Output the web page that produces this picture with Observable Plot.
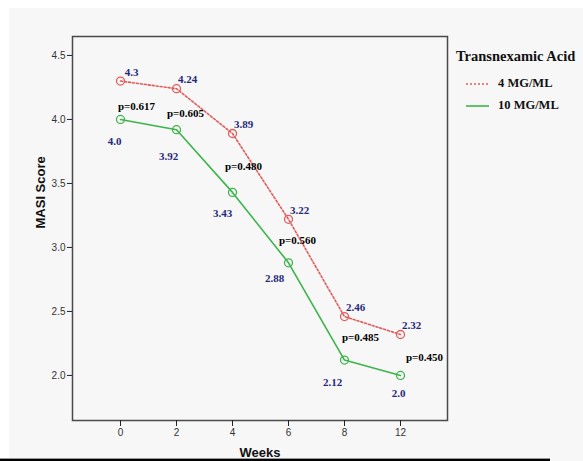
<!DOCTYPE html>
<html>
<head>
<meta charset="utf-8">
<script src="https://cdn.jsdelivr.net/npm/d3@7"></script>
<script src="https://cdn.jsdelivr.net/npm/@observablehq/plot@0.6"></script>
<style>
  html, body { margin: 0; padding: 0; background: #ffffff; }
  #wrap { position: relative; width: 583px; height: 461px; overflow: hidden; background: #ffffff; }
  #bg { position: absolute; left: 9px; top: 8px; right: 0; bottom: 0; background: #f7f7f7; }
  #chart { position: absolute; left: 0; top: 0; }
  #rule { position: absolute; left: 0; top: 458px; width: 550px; height: 2px; background: #000; border-top: 1px solid #999; }
  #legend { position: absolute; left: 456px; top: 46px; font-family: "Liberation Serif", "Times New Roman", serif; font-weight: bold; color: #111; }
  #legend .title { font-size: 14.5px; line-height: 20px; white-space: nowrap; margin-bottom: 7px; }
  #legend .row { position: relative; height: 22px; font-size: 12.5px; white-space: nowrap; }
  #legend .row svg { position: absolute; left: 9px; top: 0; }
  #legend .row span { position: absolute; left: 42px; top: 3px; }
</style>
</head>
<body>
<div id="wrap">
  <div id="bg"></div>
  <div id="chart"></div>
  <div id="legend"></div>
  <div id="rule"></div>
</div>
<script>
// ---- data ----
const weeks = ["0", "2", "4", "6", "8", "12"];
const mg4Values = [4.3, 4.24, 3.89, 3.22, 2.46, 2.32];
const mg10Values = [4.0, 3.92, 3.43, 2.88, 2.12, 2.0];
const mg4Labels = ["4.3", "4.24", "3.89", "3.22", "2.46", "2.32"];
const mg10Labels = ["4.0", "3.92", "3.43", "2.88", "2.12", "2.0"];
const pLabels = ["p=0.617", "p=0.605", "p=0.480", "p=0.560", "p=0.485", "p=0.450"];
const yTicks = [2.0, 2.5, 3.0, 3.5, 4.0, 4.5];
const seriesNames = ["4 MG/ML", "10 MG/ML"];
const legendTitle = "Transnexamic Acid";

// label nudges (pixels) relative to their points
const mg10Nudge = [[-6, 22], [-8, 27], [-10, 21], [-14, 16], [-12, 22], [-2, 18]];
const pNudge = [[16, -13], [9, -16], [11, -26], [9, -22], [16, -23], [24, -18]];

const red = "#e35b5b";
const green = "#3cb44b";
const navy = "#26297a";

const data = weeks.map((w, i) => ({
  week: w, mg4: mg4Values[i], mg10: mg10Values[i],
  l4: mg4Labels[i], l10: mg10Labels[i], p: pLabels[i]
}));

const serif = "Liberation Serif, Times New Roman, serif";

const marks = [
  Plot.frame({stroke: "#4a4a4a", strokeWidth: 1.5}),
  Plot.axisY({ticks: yTicks, tickFormat: ".1f", tickSize: 5, tickPadding: 2, label: null, stroke: "#222", fill: "#333"}),
  Plot.axisX({tickSize: 6, tickPadding: 2, label: null, stroke: "#222", fill: "#333"}),
  Plot.line(data, {x: "week", y: "mg4", stroke: red, strokeWidth: 1.6, strokeDasharray: "2,2"}),
  Plot.line(data, {x: "week", y: "mg10", stroke: green, strokeWidth: 1.6}),
  Plot.dot(data, {x: "week", y: "mg4", r: 4, stroke: red, fill: "none", strokeWidth: 1.3}),
  Plot.dot(data, {x: "week", y: "mg10", r: 4, stroke: green, fill: "none", strokeWidth: 1.3}),
  Plot.text(data, {x: "week", y: "mg4", text: "l4", dx: 11, dy: -9, fill: navy, fontFamily: serif, fontWeight: "bold", fontSize: 11}),
  ...data.map((d, i) => Plot.text([d], {x: "week", y: "mg10", text: "l10", dx: mg10Nudge[i][0], dy: mg10Nudge[i][1], fill: navy, fontFamily: serif, fontWeight: "bold", fontSize: 11})),
  ...data.map((d, i) => Plot.text([d], {x: "week", y: "mg10", text: "p", dx: pNudge[i][0], dy: pNudge[i][1], fill: "#000", fontFamily: serif, fontWeight: "bold", fontSize: 11})),
  Plot.text(["Weeks"], {frameAnchor: "bottom", text: d => d, dy: 32, lineAnchor: "middle", fontWeight: "bold", fontSize: 13, fill: "#111"}),
  Plot.text(["MASI Score"], {frameAnchor: "left", text: d => d, dx: -32, rotate: -90, lineAnchor: "middle", fontWeight: "bold", fontSize: 13, fill: "#111"})
];

const chart = Plot.plot({
  width: 583,
  height: 461,
  marginLeft: 72,
  marginRight: 136,
  marginTop: 36,
  marginBottom: 41,
  style: {background: "transparent", fontFamily: "Liberation Sans, Arial, sans-serif", fontSize: "10px", color: "#333", overflow: "visible"},
  x: {type: "point", domain: weeks, padding: 0.825},
  y: {domain: [1.648, 4.648]},
  marks
});
document.getElementById("chart").appendChild(chart);

// legend
const legend = document.getElementById("legend");
const t = document.createElement("div");
t.className = "title";
t.textContent = legendTitle;
legend.appendChild(t);
const styles = [
  {stroke: red, dash: "2,2"},
  {stroke: green, dash: null}
];
seriesNames.forEach((name, i) => {
  const row = document.createElement("div");
  row.className = "row";
  const s = styles[i];
  row.innerHTML = `<svg width="26" height="22"><line x1="1" x2="24" y1="11" y2="11" stroke="${s.stroke}" stroke-width="1.6" ${s.dash ? `stroke-dasharray="${s.dash}"` : ""}/></svg><span>${name}</span>`;
  legend.appendChild(row);
});
</script>
</body>
</html>
